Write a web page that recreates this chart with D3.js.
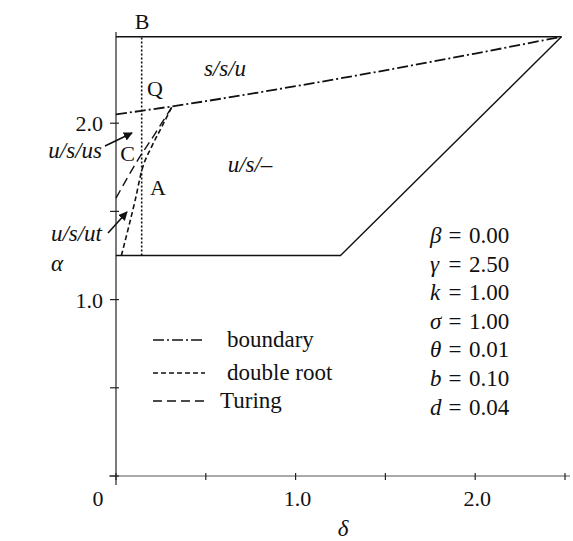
<!DOCTYPE html>
<html>
<head>
<meta charset="utf-8">
<script src="https://cdn.jsdelivr.net/npm/d3@7"></script>
<style>
  body { margin: 0; background: #fff; }
  svg { display: block; }
  text { fill: #111; font-family: "Liberation Serif", "DejaVu Serif", serif; }
</style>
</head>
<body>
<svg width="573" height="541"></svg>
<script>
// curves, in (delta, alpha)
const boundary = [[0, 2.05], [0.14, 2.07], [0.31, 2.095], [0.5, 2.125], [1.0, 2.21], [1.5, 2.3], [2.0, 2.395], [2.48, 2.49]];
const doubleRoot = [[0.03, 1.25], [0.07, 1.41], [0.106, 1.56], [0.143, 1.73], [0.2, 1.87], [0.25, 1.97], [0.31, 2.09]];
const turing = [[0, 1.575], [0.115, 1.78], [0.217, 1.94], [0.31, 2.09]];
const topEdge = [[0, 2.49], [2.48, 2.49]];
const lowerEdge = [[0, 1.25], [1.25, 1.25], [2.48, 2.49]];
const lineB = [[0.143, 1.25], [0.143, 2.49]];

const xTicks = [0, 0.5, 1.0, 1.5, 2.0, 2.5];
const yTicks = [0, 0.5, 1.0, 1.5, 2.0];
const xTickLabels = [[1.0, "1.0"], [2.0, "2.0"]];
const yTickLabels = [[1.0, "1.0"], [2.0, "2.0"]];

const paramSymbols = ["β", "γ", "k", "σ", "θ", "b", "d"];
const paramValues = ["0.00", "2.50", "1.00", "1.00", "0.01", "0.10", "0.04"];

const legendNames = ["boundary", "double root", "Turing"];

const svg = d3.select("svg");
const x = d3.scaleLinear().domain([0, 2.5]).range([116, 565]);
const y = d3.scaleLinear().domain([0, 2.5]).range([476, 35]);

const line = d3.line().x(d => x(d[0])).y(d => y(d[1]));
const curve = d3.line().x(d => x(d[0])).y(d => y(d[1])).curve(d3.curveMonotoneX);

const dashes = {
    boundary: "11,3,2,3",
    doubleRoot: "5,3",
    turing: "9,5"
};

// axes
const ax = svg.append("g").attr("stroke", "#222").attr("stroke-width", 1.2);
ax.append("line").attr("x1", x(0)).attr("x2", x(0)).attr("y1", 485).attr("y2", 32);
ax.append("line").attr("x1", 109).attr("x2", 570).attr("y1", y(0)).attr("y2", y(0)).attr("stroke", "#555").attr("stroke-width", 1);
ax.selectAll(".yt").data(yTicks).join("line")
    .attr("x1", x(0) - 6).attr("x2", x(0) + 3)
    .attr("y1", d => y(d)).attr("y2", d => y(d));
ax.selectAll(".xt").data(xTicks).join("line")
    .attr("x1", d => x(d)).attr("x2", d => x(d))
    .attr("y1", y(0) - 3).attr("y2", y(0) + 4);

svg.selectAll(".xl").data(xTickLabels).join("text")
    .attr("x", d => x(d[0]) + 2).attr("y", 506)
    .attr("text-anchor", "middle").attr("font-size", 22)
    .text(d => d[1]);
svg.append("text").attr("x", 98).attr("y", 506).attr("text-anchor", "middle")
    .attr("font-size", 22).text("0");
svg.selectAll(".yl").data(yTickLabels).join("text")
    .attr("x", 103).attr("y", d => y(d[0]) + 8)
    .attr("text-anchor", "end").attr("font-size", 22)
    .text(d => d[1]);

svg.append("text").attr("x", 343).attr("y", 536).attr("text-anchor", "middle")
    .attr("font-size", 23).attr("font-style", "italic").text("δ");
svg.append("text").attr("x", 57).attr("y", 271).attr("text-anchor", "middle")
    .attr("font-size", 23).attr("font-style", "italic").text("α");

// region outline
const plot = svg.append("g").attr("fill", "none").attr("stroke", "#111").attr("stroke-width", 1.4);
plot.append("path").attr("d", line(topEdge));
plot.append("path").attr("d", line(lowerEdge));
plot.append("path").attr("d", line(lineB)).attr("stroke-dasharray", "2,2").attr("stroke-width", 1.6);

plot.append("path").attr("d", curve(boundary)).attr("stroke-dasharray", dashes.boundary).attr("stroke-width", 1.8);
plot.append("path").attr("d", curve(doubleRoot)).attr("stroke-dasharray", dashes.doubleRoot).attr("stroke-width", 1.6);
plot.append("path").attr("d", curve(turing)).attr("stroke-dasharray", dashes.turing).attr("stroke-width", 1.4);

// point and region labels
const pts = [["B", 142, 29], ["Q", 155, 96], ["C", 127.5, 161], ["A", 158, 195]];
svg.selectAll(".pt").data(pts).join("text")
    .attr("x", d => d[1]).attr("y", d => d[2])
    .attr("text-anchor", "middle").attr("font-size", 22).text(d => d[0]);

const regions = [["s/s/u", 225, 76, "middle"], ["u/s/–", 250, 172, "middle"],
                 ["u/s/us", 102, 158, "end"], ["u/s/ut", 102, 241, "end"]];
svg.selectAll(".rg").data(regions).join("text")
    .attr("x", d => d[1]).attr("y", d => d[2])
    .attr("text-anchor", d => d[3]).attr("font-size", 23).attr("font-style", "italic")
    .text(d => d[0]);

// arrows
svg.append("defs").append("marker")
    .attr("id", "ah").attr("viewBox", "0 0 10 10").attr("refX", 9).attr("refY", 5)
    .attr("markerWidth", 9).attr("markerHeight", 9).attr("markerUnits", "userSpaceOnUse")
    .attr("orient", "auto")
    .append("path").attr("d", "M0,0 L10,5 L0,10 Z").attr("fill", "#111");
const arrows = [[105, 146, 132, 133], [108, 233, 127, 212]];
svg.selectAll(".ar").data(arrows).join("line")
    .attr("x1", d => d[0]).attr("y1", d => d[1]).attr("x2", d => d[2]).attr("y2", d => d[3])
    .attr("stroke", "#111").attr("stroke-width", 1.6).attr("marker-end", "url(#ah)");

// legend
const leg = svg.append("g");
const legDash = [dashes.boundary, dashes.doubleRoot, dashes.turing];
const legTextX = [227, 227, 220];
const legY = [340, 373, 401];
legendNames.forEach((name, i) => {
    leg.append("line").attr("x1", 153).attr("x2", 205).attr("y1", legY[i]).attr("y2", legY[i])
        .attr("stroke", "#111").attr("stroke-width", 1.5).attr("stroke-dasharray", legDash[i]);
    leg.append("text").attr("x", legTextX[i]).attr("y", legY[i] + 7)
        .attr("font-size", 23).text(name);
});

// parameters
const par = svg.append("g");
paramSymbols.forEach((s, i) => {
    const yy = 243 + i * 28.6;
    par.append("text").attr("x", 430).attr("y", yy).attr("font-size", 23)
        .attr("font-style", "italic").text(s);
    par.append("text").attr("x", 455).attr("y", yy).attr("font-size", 23)
        .attr("text-anchor", "middle").text("=");
    par.append("text").attr("x", 469).attr("y", yy).attr("font-size", 23).text(paramValues[i]);
});
</script>
</body>
</html>
